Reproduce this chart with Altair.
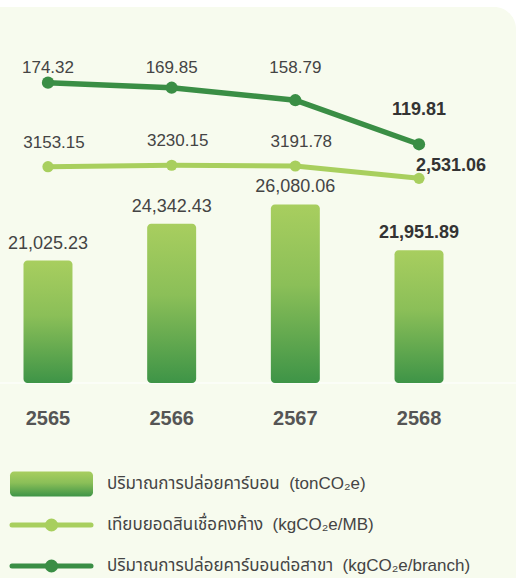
import altair as alt
import pandas as pd

# --- data -------------------------------------------------------------
years = ["2565", "2566", "2567", "2568"]
emissions_ton = [21025.23, 24342.43, 26080.06, 21951.89]      # tonCO2e
per_loan_mb = [3153.15, 3230.15, 3191.78, 2531.06]            # kgCO2e/MB
per_branch = [174.32, 169.85, 158.79, 119.81]                 # kgCO2e/branch

bar_labels = ["21,025.23", "24,342.43", "26,080.06", "21,951.89"]
loan_labels = ["3153.15", "3230.15", "3191.78", "2,531.06"]
branch_labels = ["174.32", "169.85", "158.79", "119.81"]

legend_items = [
    "ปริมาณการปล่อยคาร์บอน\u00a0 (tonCO₂e)",
    "เทียบยอดสินเชื่อคงค้าง\u00a0 (kgCO₂e/MB)",
    "ปริมาณการปล่อยคาร์บอนต่อสาขา\u00a0 (kgCO₂e/branch)",
]
legend_kinds = ["bar", "loan", "branch"]

# --- styling ----------------------------------------------------------
W, H = 516, 578
BASE_Y = 382                      # pixel row of the bar floor
FONT = "Liberation Sans, Arial, Noto Sans Thai, Noto Sans, sans-serif"
TEXT = "#444444"
DARK = "#3A8E45"
LIGHT = "#A8CF5E"
PANEL = "#F7FBEE"
BAR_FILL = alt.Gradient(
    gradient="linear",
    stops=[alt.GradientStop(color="#A8CE5F", offset=0),
           alt.GradientStop(color="#8BBF58", offset=0.45),
           alt.GradientStop(color="#3E9447", offset=1)],
    x1=0, x2=0, y1=0, y2=1,
)

df = pd.DataFrame({
    "year": years,
    "ton": emissions_ton,
    "mb": per_loan_mb,
    "branch": per_branch,
    "ton_lbl": bar_labels,
    "mb_lbl": loan_labels,
    "branch_lbl": branch_labels,
})
df["latest"] = df["year"] == years[-1]

x_enc = alt.X("year:N", sort=years, axis=None,
              scale=alt.Scale(range=[0, 467], paddingInner=0.604, paddingOuter=0.19))

base = alt.Chart(df)

# background panel with a rounded top-right corner
panel = alt.Chart(pd.DataFrame({"p": [0]})).mark_rect(
    fill=PANEL, cornerRadiusTopRight=22
).encode(x=alt.value(0), x2=alt.value(W), y=alt.value(7), y2=alt.value(H))

# --- bars: total emissions -------------------------------------------
y_ton = alt.Y("ton:Q", axis=None,
              scale=alt.Scale(domain=[10000, 44480], range=[BASE_Y, 0], zero=False))
bars = base.mark_bar(cornerRadius=4, fill=BAR_FILL).encode(
    x=x_enc, y=y_ton, y2=alt.datum(10000))
bar_text = base.transform_filter("!datum.latest").mark_text(
    font=FONT, fontSize=18, color=TEXT, dy=-17, baseline="middle"
).encode(x=x_enc, y=y_ton, text="ton_lbl:N")
bar_text_latest = base.transform_filter("datum.latest").mark_text(
    font=FONT, fontSize=18, fontWeight="bold", color="#333333", dy=-17, baseline="middle"
).encode(x=x_enc, y=y_ton, text="ton_lbl:N")
floor = alt.Chart(pd.DataFrame({"f": [10000]})).mark_rule(color="#FFFFFF", strokeWidth=1.2).encode(
    x=alt.value(0), x2=alt.value(W),
    y=alt.Y("f:Q", axis=None, scale=alt.Scale(domain=[10000, 44480], range=[BASE_Y + 1, 0], zero=False)))
bar_group = alt.layer(floor, bars, bar_text, bar_text_latest)

# --- light line: per outstanding loans -------------------------------
y_mb = alt.Y("mb:Q", axis=None,
             scale=alt.Scale(domain=[-8360, 12067], range=[BASE_Y, 0], zero=False))
mb_line = base.mark_line(color=LIGHT, strokeWidth=5).encode(x=x_enc, y=y_mb)
mb_pts = base.mark_circle(color=LIGHT, size=125, opacity=1).encode(x=x_enc, y=y_mb)
mb_text = base.transform_filter("!datum.latest").mark_text(
    font=FONT, fontSize=17, color=TEXT, dx=6, dy=-24, baseline="middle"
).encode(x=x_enc, y=y_mb, text="mb_lbl:N")
mb_text_latest = base.transform_filter("datum.latest").mark_text(
    font=FONT, fontSize=18, fontWeight="bold", color="#333333", align="left",
    dx=-3, dy=-12, baseline="middle"
).encode(x=x_enc, y=y_mb, text="mb_lbl:N")
mb_group = alt.layer(mb_line, mb_pts, mb_text, mb_text_latest)

# --- dark line: per branch --------------------------------------------
y_br = alt.Y("branch:Q", axis=None,
             scale=alt.Scale(domain=[-90.6, 247.5], range=[BASE_Y, 0], zero=False))
br_line = base.mark_line(color=DARK, strokeWidth=5.5).encode(x=x_enc, y=y_br)
br_pts = base.mark_circle(color=DARK, size=150, opacity=1).encode(x=x_enc, y=y_br)
# earlier years share one label row above the line
br_text = base.transform_filter("!datum.latest").mark_text(
    font=FONT, fontSize=17, color=TEXT, baseline="middle"
).encode(x=x_enc, y=alt.value(68), text="branch_lbl:N")
br_text_latest = base.transform_filter("datum.latest").mark_text(
    font=FONT, fontSize=18, fontWeight="bold", color="#333333", dy=-34, baseline="middle"
).encode(x=x_enc, y=y_br, text="branch_lbl:N")
br_group = alt.layer(br_line, br_pts, br_text, br_text_latest)

# --- year labels ------------------------------------------------------
year_text = base.mark_text(
    font=FONT, fontSize=20, fontWeight="bold", color="#555555", baseline="middle"
).encode(x=x_enc, y=alt.value(419), text="year:N")

# --- legend -----------------------------------------------------------
leg = pd.DataFrame({"item": legend_items, "kind": legend_kinds})
y_leg = alt.Y("item:N", sort=legend_items, axis=None,
              scale=alt.Scale(type="point", range=[484, 566], padding=0))
leg_base = alt.Chart(leg)
leg_swatch = leg_base.transform_filter("datum.kind == 'bar'").mark_bar(
    fill=BAR_FILL, cornerRadius=4, height=25
).encode(x=alt.value(10), x2=alt.value(93), y=y_leg)
leg_color = alt.Color("kind:N", legend=None,
                      scale=alt.Scale(domain=["loan", "branch"], range=[LIGHT, DARK]))
leg_rule = leg_base.transform_filter("datum.kind != 'bar'").mark_rule(
    strokeWidth=5, strokeCap="round"
).encode(x=alt.value(12), x2=alt.value(91), y=y_leg, color=leg_color)
leg_dot = leg_base.transform_filter("datum.kind != 'bar'").mark_circle(
    size=170, opacity=1
).encode(x=alt.value(51.5), y=y_leg, color=leg_color)
leg_text = leg_base.mark_text(
    font=FONT, fontSize=17, color=TEXT, align="left", baseline="middle"
).encode(x=alt.value(107), y=y_leg, text="item:N")
legend_group = alt.layer(leg_swatch, leg_rule, leg_dot, leg_text)

chart = alt.layer(
    panel, bar_group, mb_group, br_group, year_text, legend_group
).resolve_scale(y="independent").properties(
    width=W, height=H, background="#FFFFFF", padding=0,
    autosize=alt.AutoSizeParams(type="none"),
).configure_view(stroke=None)

chart.save("out.html", embed_options={"renderer": "svg", "actions": False})
